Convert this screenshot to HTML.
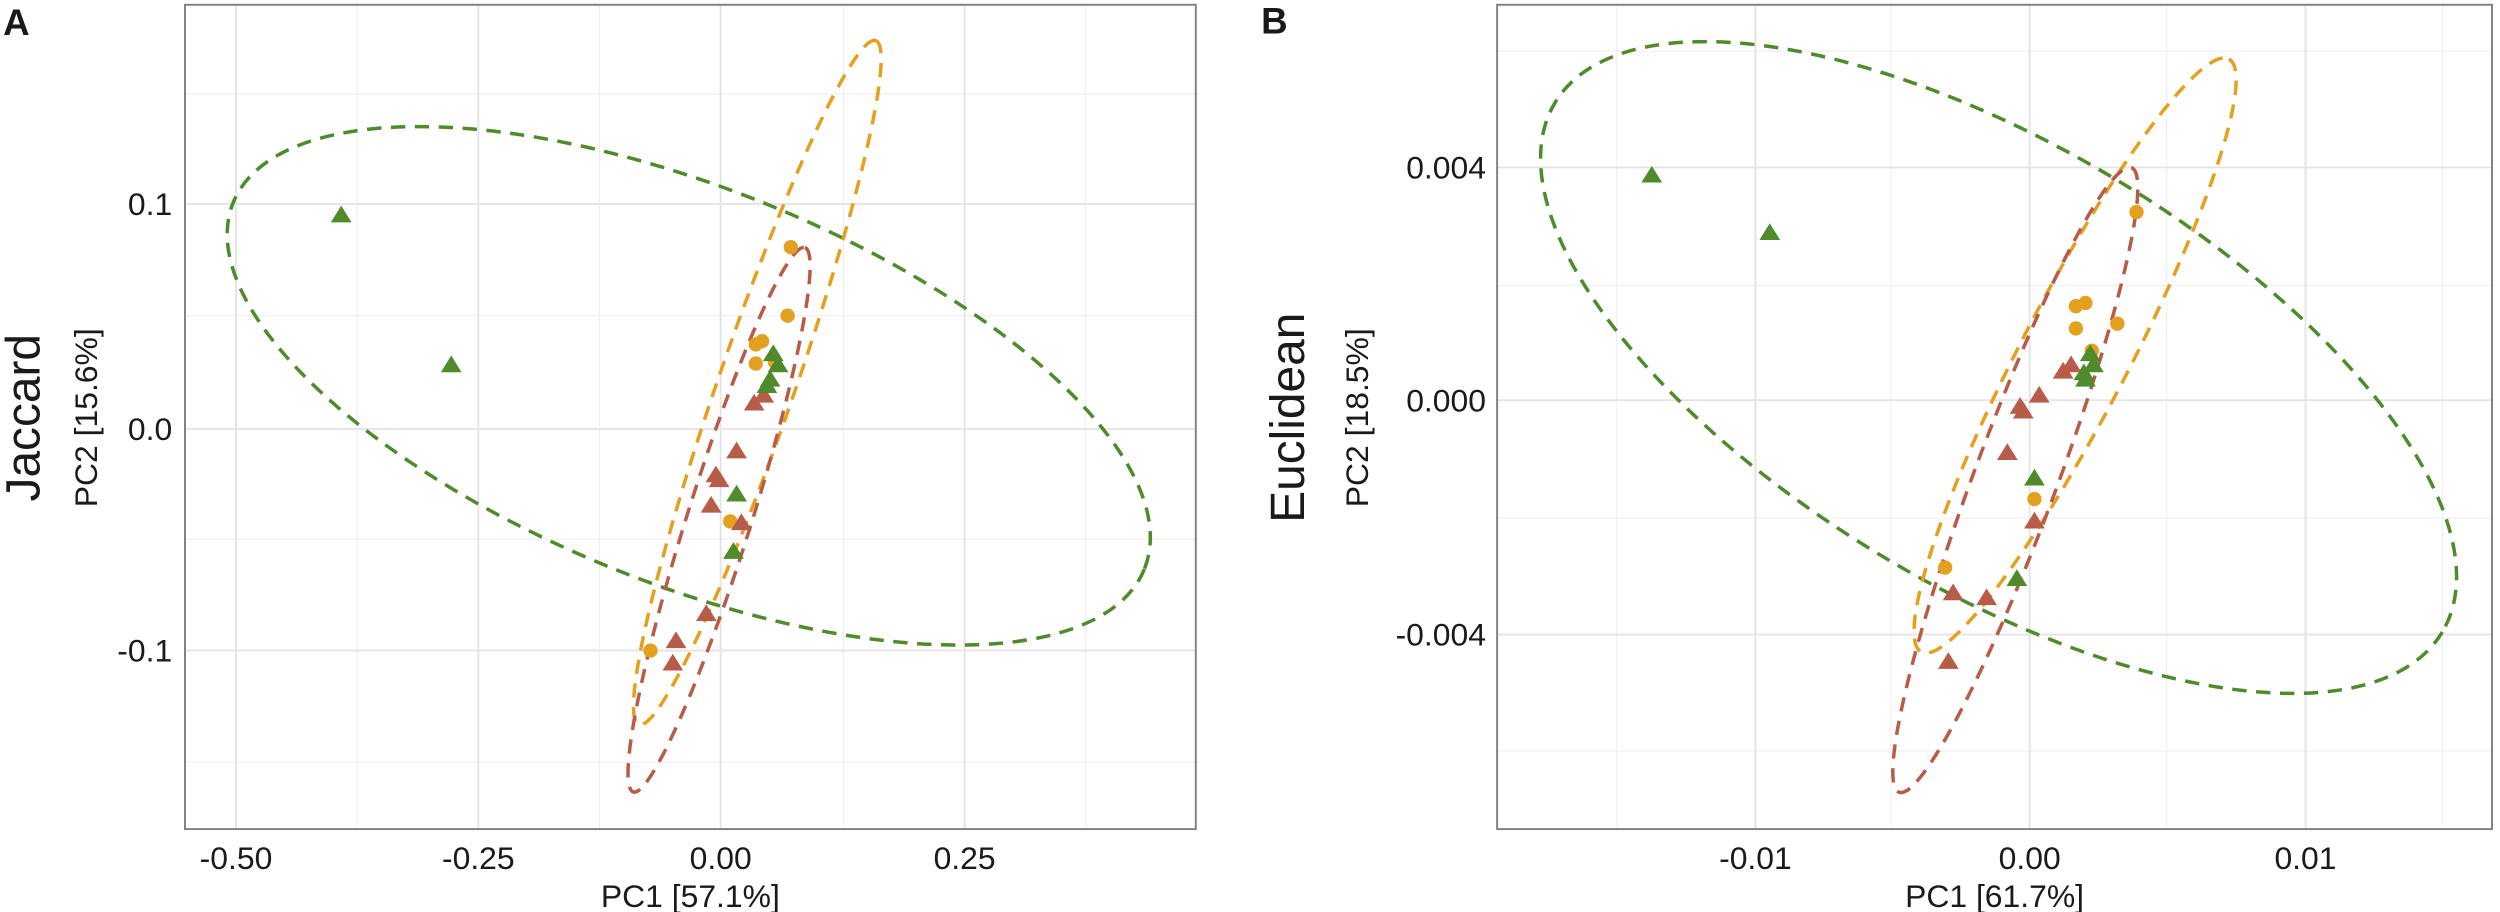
<!DOCTYPE html>
<html><head><meta charset="utf-8"><style>
html,body{margin:0;padding:0;background:#fff;}
svg{display:block;}
text{font-family:"Liberation Sans",Arial,sans-serif;fill:#1a1a1a;}
</style></head><body>
<svg width="2500" height="912" viewBox="0 0 1568 572" preserveAspectRatio="none" xmlns="http://www.w3.org/2000/svg">
<defs>
<polygon id="tri" points="0,-6 6.5,4.5 -6.5,4.5"/>
</defs>
<!-- Panel A -->
<g stroke="#efefef" stroke-width="0.7">
<line x1="116" x2="750" y1="59" y2="59"/><line x1="116" x2="750" y1="198" y2="198"/><line x1="116" x2="750" y1="338" y2="338"/><line x1="116" x2="750" y1="478" y2="478"/>
<line y1="3" y2="520" x1="224" x2="224"/><line y1="3" y2="520" x1="376" x2="376"/><line y1="3" y2="520" x1="529" x2="529"/><line y1="3" y2="520" x1="681" x2="681"/>
</g>
<g stroke="#e4e4e4" stroke-width="1.2">
<line x1="116" x2="750" y1="128" y2="128"/><line x1="116" x2="750" y1="269" y2="269"/><line x1="116" x2="750" y1="408" y2="408"/>
<line y1="3" y2="520" x1="148" x2="148"/><line y1="3" y2="520" x1="300" x2="300"/><line y1="3" y2="520" x1="452" x2="452"/><line y1="3" y2="520" x1="605" x2="605"/>
</g>
<rect x="116" y="3" width="634" height="517" fill="none" stroke="#7f7f7f" stroke-width="1.2"/>
<g fill="none" stroke-width="2.2" stroke-dasharray="9,6">
<ellipse cx="432" cy="242" rx="308" ry="124" transform="rotate(21.9 432 242)" stroke="#4f8a2b"/>
<ellipse cx="475" cy="240" rx="227" ry="24" transform="rotate(-70.9 475 240)" stroke="#e3a11f"/>
<ellipse cx="451" cy="326" rx="179" ry="20" transform="rotate(-72.5 451 326)" stroke="#b85c4a"/>
</g>
<g fill="#e3a11f">
<circle cx="496" cy="155" r="4.5"/><circle cx="494" cy="198" r="4.5"/><circle cx="474" cy="216" r="4.5"/><circle cx="478" cy="214" r="4.5"/><circle cx="474" cy="228" r="4.5"/><circle cx="486" cy="227" r="4.5"/><circle cx="458" cy="327" r="4.5"/><circle cx="408" cy="408" r="4.5"/>
</g>
<g fill="#b85c4a">
<use href="#tri" x="473" y="253"/><use href="#tri" x="479" y="248"/><use href="#tri" x="462" y="283"/><use href="#tri" x="449" y="298"/><use href="#tri" x="451" y="301"/><use href="#tri" x="446" y="317"/><use href="#tri" x="465" y="328"/><use href="#tri" x="443" y="385"/><use href="#tri" x="424" y="402"/><use href="#tri" x="422" y="416"/>
</g>
<g fill="#4f8a2b">
<use href="#tri" x="214" y="135"/><use href="#tri" x="283" y="229"/><use href="#tri" x="485" y="222"/><use href="#tri" x="488" y="229"/><use href="#tri" x="483" y="238"/><use href="#tri" x="481" y="242"/><use href="#tri" x="462" y="310"/><use href="#tri" x="460" y="346"/>
</g>
<g font-size="20" text-anchor="end">
<text x="108" y="135">0.1</text><text x="108" y="276">0.0</text><text x="108" y="415">-0.1</text>
</g>
<g font-size="20" text-anchor="middle">
<text x="148" y="545">-0.50</text><text x="300" y="545">-0.25</text><text x="452" y="545">0.00</text><text x="605" y="545">0.25</text>
</g>
<text x="433" y="569" font-size="20" text-anchor="middle">PC1  [57.1%]</text>
<text transform="translate(54 262) rotate(-90)" font-size="20" text-anchor="middle" dominant-baseline="central">PC2  [15.6%]</text>
<text transform="translate(15 262) rotate(-90)" font-size="30" text-anchor="middle" dominant-baseline="central">Jaccard</text>
<text x="2" y="22" font-size="23" font-weight="bold">A</text>
<!-- Panel B -->
<g stroke="#efefef" stroke-width="0.7">
<line x1="939" x2="1563" y1="32" y2="32"/><line x1="939" x2="1563" y1="179" y2="179"/><line x1="939" x2="1563" y1="325" y2="325"/><line x1="939" x2="1563" y1="471" y2="471"/>
<line y1="3" y2="520" x1="1014" x2="1014"/><line y1="3" y2="520" x1="1186" x2="1186"/><line y1="3" y2="520" x1="1359" x2="1359"/><line y1="3" y2="520" x1="1532" x2="1532"/>
</g>
<g stroke="#e4e4e4" stroke-width="1.2">
<line x1="939" x2="1563" y1="105" y2="105"/><line x1="939" x2="1563" y1="251" y2="251"/><line x1="939" x2="1563" y1="398" y2="398"/>
<line y1="3" y2="520" x1="1101" x2="1101"/><line y1="3" y2="520" x1="1273" x2="1273"/><line y1="3" y2="520" x1="1446" x2="1446"/>
</g>
<rect x="939" y="3" width="624" height="517" fill="none" stroke="#7f7f7f" stroke-width="1.2"/>
<g fill="none" stroke-width="2.2" stroke-dasharray="9,6">
<ellipse cx="1253.5" cy="230.5" rx="324" ry="139" transform="rotate(30.8 1253.5 230.5)" stroke="#4f8a2b"/>
<ellipse cx="1301.5" cy="223" rx="209.5" ry="34" transform="rotate(-62.6 1301.5 223)" stroke="#e3a11f"/>
<ellipse cx="1264" cy="301" rx="209" ry="26" transform="rotate(-69.6 1264 301)" stroke="#b85c4a"/>
</g>
<g fill="#e3a11f">
<circle cx="1340" cy="133" r="4.5"/><circle cx="1302" cy="192" r="4.5"/><circle cx="1308" cy="190" r="4.5"/><circle cx="1302" cy="206" r="4.5"/><circle cx="1328" cy="203" r="4.5"/><circle cx="1312" cy="220" r="4.5"/><circle cx="1276" cy="313" r="4.5"/><circle cx="1220" cy="356" r="4.5"/>
</g>
<g fill="#b85c4a">
<use href="#tri" x="1294" y="233"/><use href="#tri" x="1299" y="229"/><use href="#tri" x="1279" y="248"/><use href="#tri" x="1267" y="255"/><use href="#tri" x="1269" y="258"/><use href="#tri" x="1259" y="284"/><use href="#tri" x="1276" y="327"/><use href="#tri" x="1225" y="372"/><use href="#tri" x="1246" y="375"/><use href="#tri" x="1222" y="415"/>
</g>
<g fill="#4f8a2b">
<use href="#tri" x="1036" y="110"/><use href="#tri" x="1110" y="146"/><use href="#tri" x="1311" y="222"/><use href="#tri" x="1313" y="229"/><use href="#tri" x="1307" y="234"/><use href="#tri" x="1308" y="238"/><use href="#tri" x="1276" y="300"/><use href="#tri" x="1265" y="363"/>
</g>
<g font-size="20" text-anchor="end">
<text x="932" y="112">0.004</text><text x="932" y="258">0.000</text><text x="932" y="405">-0.004</text>
</g>
<g font-size="20" text-anchor="middle">
<text x="1101" y="545">-0.01</text><text x="1273" y="545">0.00</text><text x="1446" y="545">0.01</text>
</g>
<text x="1251" y="569" font-size="20" text-anchor="middle">PC1  [61.7%]</text>
<text transform="translate(851 262) rotate(-90)" font-size="20" text-anchor="middle" dominant-baseline="central">PC2  [18.5%]</text>
<text transform="translate(808 262) rotate(-90)" font-size="30" text-anchor="middle" dominant-baseline="central">Euclidean</text>
<text x="791" y="21" font-size="23" font-weight="bold">B</text>
</svg>
</body></html>
